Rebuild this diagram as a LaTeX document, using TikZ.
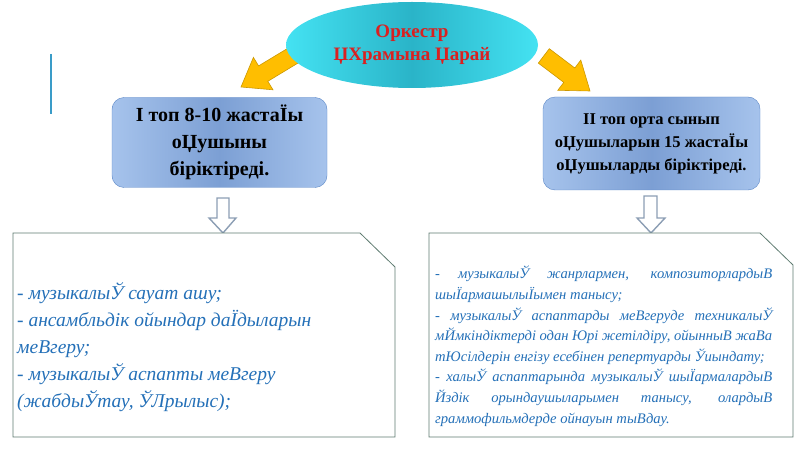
\documentclass[tikz,border=0pt]{standalone}
\usepackage{fontspec}
\setmainfont{Liberation Serif}
\usetikzlibrary{shapes.geometric}
\definecolor{ovalcyan}{HTML}{44E2F2}
\definecolor{ovalmid}{HTML}{2AB4C8}
\definecolor{titlered}{HTML}{DA2020}
\definecolor{boxblue}{HTML}{A6C3EC}
\definecolor{boxmid}{HTML}{7C9FD4}
\definecolor{boxedge}{HTML}{5A86C6}
\definecolor{listblue}{HTML}{2470B8}
\definecolor{frameedge}{HTML}{5E7B70}
\definecolor{arrowgold}{HTML}{FFBE00}
\definecolor{hollowedge}{HTML}{8C9EB4}
\definecolor{lineteal}{HTML}{3A9CC8}
\tikzset{
  titleoval/.style = {ellipse, draw=none, left color=ovalcyan, right color=ovalcyan, middle color=ovalmid,
                      minimum width=252pt, minimum height=86pt, align=center, text=titlered,
                      font=\fontsize{19}{23}\selectfont\bfseries},
  groupbox/.style = {draw=boxedge, rounded corners=12pt, left color=boxblue, right color=boxblue,
                     middle color=boxmid, align=center, inner sep=0pt},
  listframe/.style = {draw=frameedge, line width=0.8pt, fill=white},
  listtext/.style = {anchor=north west, inner sep=0pt, text=listblue},
  goldarrow/.style = {draw=arrowgold!80!black, line width=0.6pt, fill=arrowgold},
  hollowarrow/.style = {draw=hollowedge, line width=1.4pt, fill=white}
}
\begin{document}
\begin{tikzpicture}[x=1pt, y=-1pt]
\useasboundingbox (0,0) rectangle (800,449);
% side line
\draw[lineteal, line width=1.5pt] (51,54) -- (51,114);
% gold arrows
\draw[goldarrow] (241,87) -- (253.4,57.4) -- (258.6,65.9) -- (289.4,47.3)
  -- (298.6,62.7) -- (267.8,81.3) -- (273,89.8) -- cycle;
\draw[goldarrow] (590,91) -- (580.8,60.1) -- (574.8,68.0) -- (549.3,48.7)
  -- (538.3,63.1) -- (563.8,82.4) -- (557.8,90.3) -- cycle;
% title
\node[titleoval] (orch) at (412,45) {Оркестр\\ЏХрамына Џарай};
% groups
\node[groupbox, minimum width=215pt, minimum height=90pt,
      font=\fontsize{20}{27}\selectfont\bfseries] (grpA) at (219.5,142.5)
  {І топ 8-10 жастаЇы\\оЏушыны\\біріктіреді.};
\node[groupbox, minimum width=217pt, minimum height=93pt,
      font=\fontsize{16.5}{23}\selectfont\bfseries] (grpB) at (651.5,143.5)
  {ІІ топ орта сынып\\оЏушыларын 15 жастаЇы\\оЏушыларды  біріктіреді.};
% hollow arrows
\draw[hollowarrow] (217,198) -- (229,198) -- (229,218) -- (236,218) -- (223,233)
  -- (209,218) -- (217,218) -- cycle;
\draw[hollowarrow] (644,196) -- (657,196) -- (657,218) -- (665,218) -- (651,233)
  -- (637,218) -- (644,218) -- cycle;
% list frames
\draw[listframe] (13,233) -- (360,233) -- (395,267) -- (395,437) -- (13,437) -- cycle;
\draw[listframe] (429,233) -- (760,233) -- (793,265) -- (793,437) -- (429,437) -- cycle;
% list texts
\node[listtext, align=left, font=\fontsize{19.5}{27}\selectfont\itshape] (listA) at (17,282)
  {- музыкалыЎ сауат ашу;\\
   - ансамбльдік ойындар даЇдыларын\\
   меВгеру;\\
   - музыкалыЎ аспапты меВгеру\\
   (жабдыЎтау, ЎЛрылыс);};
\node[listtext, text width=337pt, align=justify, font=\fontsize{14.6}{20.6}\selectfont\itshape] (listB) at (435,266)
  {-  музыкалыЎ жанрлармен, композиторлардыВ\linebreak
   шыЇармашылыЇымен танысу;\par
   - музыкалыЎ аспаптарды меВгеруде техникалыЎ\linebreak
   мЙмкіндіктерді одан Юрі жетілдіру, ойынныВ жаВа\linebreak
   тЮсілдерін енгізу есебінен репертуарды Ўиындату;\par
   - халыЎ аспаптарында музыкалыЎ шыЇармалардыВ\linebreak
   Йздік орындаушыларымен танысу, олардыВ\linebreak
   граммофильмдерде ойнауын тыВдау.\par};
\end{tikzpicture}
\end{document}
